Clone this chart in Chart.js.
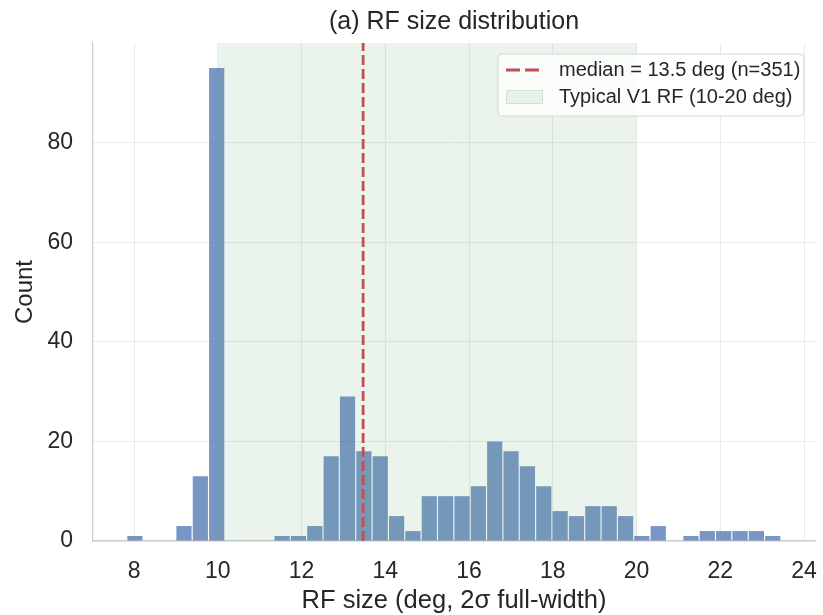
<!DOCTYPE html>
<html>
<head>
<meta charset="utf-8">
<title>RF size distribution</title>
<script src="https://cdn.jsdelivr.net/npm/chart.js@4.4.1/dist/chart.umd.min.js"></script>
<style>
  html, body { margin: 0; padding: 0; background: #fff; }
</style>
</head>
<body>
<canvas id="rfChart" width="823" height="615"></canvas>
<script>
// histogram of fitted RF sizes, 40 equal bins
const binStart = 7.826;
const binWidth = 0.3905;
const counts = [1, 0, 0, 3, 13, 95, 0, 0, 0, 1,
                1, 3, 17, 29, 18, 17, 5, 2, 9, 9,
                9, 11, 20, 18, 15, 11, 6, 5, 7, 7,
                5, 1, 3, 0, 1, 2, 2, 2, 2, 1];
const medianDeg = 13.47;
const typicalRange = [10, 20];
const xTicks = [8, 10, 12, 14, 16, 18, 20, 22, 24];
const yTicks = [0, 20, 40, 60, 80];
const xRange = [7.02, 24.26];
const yMax = 100;
const medianLabel = 'median = 13.5 deg (n=351)';
const spanLabel = 'Typical V1 RF (10-20 deg)';

const textColor = '#262626';
const gridColor = '#ebebeb';
const spineColor = '#cccccc';
const barColor = 'rgba(76,114,176,0.75)';
const spanFill = 'rgba(85,168,104,0.12)';
const medianColor = '#c44e52';
const fontFamily = '"Liberation Sans", Arial, sans-serif';

Chart.defaults.font.family = fontFamily;
Chart.defaults.color = textColor;

// legend drawn inside the plot, on top of everything (like matplotlib)
const legendBox = {
  id: 'legendBox',
  afterDraw(chart) {
    const { ctx, chartArea } = chart;
    const w = 306, h = 62;
    const left = chartArea.right - 11 - w;
    const top = chartArea.top + 11;
    const row1 = top + 16, row2 = top + 43;
    ctx.save();
    ctx.beginPath();
    ctx.roundRect(left, top, w, h, 4);
    ctx.fillStyle = 'rgba(255,255,255,0.8)';
    ctx.fill();
    ctx.strokeStyle = '#d6d6d6';
    ctx.lineWidth = 1;
    ctx.stroke();

    ctx.beginPath();
    ctx.setLineDash([14, 5]);
    ctx.strokeStyle = medianColor;
    ctx.lineWidth = 2.8;
    ctx.moveTo(left + 8, row1);
    ctx.lineTo(left + 45, row1);
    ctx.stroke();
    ctx.setLineDash([]);

    ctx.fillStyle = spanFill;
    ctx.fillRect(left + 8, row2 - 7, 37, 14);
    ctx.strokeStyle = 'rgba(85,168,104,0.18)';
    ctx.lineWidth = 1;
    ctx.strokeRect(left + 8.5, row2 - 6.5, 36, 13);

    ctx.fillStyle = textColor;
    ctx.font = '20px ' + fontFamily;
    ctx.textBaseline = 'middle';
    ctx.textAlign = 'left';
    ctx.fillText(medianLabel, left + 61, row1);
    ctx.fillText(spanLabel, left + 61, row2);
    ctx.restore();
  }
};

new Chart(document.getElementById('rfChart'), {
  type: 'bar',
  data: {
    datasets: [
      {
        type: 'line',
        label: medianLabel,
        data: [{ x: medianDeg, y: 0 }, { x: medianDeg, y: yMax }],
        borderColor: medianColor,
        borderWidth: 2.8,
        borderDash: [10, 4],
        pointRadius: 0,
        order: 0,
      },
      {
        type: 'line',
        label: spanLabel,
        data: [{ x: typicalRange[0], y: yMax }, { x: typicalRange[1], y: yMax }],
        borderColor: 'transparent',
        borderWidth: 0,
        backgroundColor: spanFill,
        fill: 'origin',
        pointRadius: 0,
        order: 1,
      },
      {
        type: 'bar',
        label: 'Count',
        data: counts.map((c, i) => ({ x: binStart + (i + 0.5) * binWidth, y: c })),
        backgroundColor: barColor,
        barPercentage: 0.93,
        categoryPercentage: 1,
        order: 2,
      },
    ],
  },
  options: {
    responsive: false,
    devicePixelRatio: 1,
    animation: false,
    layout: { padding: { left: 0, right: 8, top: 0, bottom: 0 } },
    plugins: {
      legend: { display: false },
      tooltip: { enabled: false },
      title: {
        display: true,
        fullSize: false, // centre over the plot area, as matplotlib does
        text: '(a) RF size distribution',
        color: textColor,
        font: { size: 25, weight: 'normal' },
        padding: { top: 7, bottom: 6 },
      },
    },
    scales: {
      x: {
        type: 'linear',
        min: xRange[0],
        max: xRange[1],
        offset: false,
        afterBuildTicks: axis => { axis.ticks = xTicks.map(v => ({ value: v })); },
        afterFit: axis => {
          axis.height = 74;
          axis.paddingLeft = 0;
          axis.paddingRight = 0;
        },
        grid: { color: gridColor, lineWidth: 1, drawTicks: false, offset: false },
        border: { color: spineColor, width: 1.25 },
        ticks: { color: textColor, font: { size: 23 }, padding: 17, maxRotation: 0, autoSkip: false },
        title: {
          display: true,
          text: 'RF size (deg, 2σ full-width)',
          color: textColor,
          font: { size: 25.5 },
          padding: { top: 0, bottom: -1 },
        },
      },
      y: {
        type: 'linear',
        min: 0,
        max: yMax,
        afterBuildTicks: axis => { axis.ticks = yTicks.map(v => ({ value: v })); },
        afterFit: axis => {
          axis.width = 93;
          axis.paddingTop = 0;
          axis.paddingBottom = 0;
        },
        grid: { color: gridColor, lineWidth: 1, drawTicks: false },
        border: { color: spineColor, width: 1.25 },
        ticks: { color: textColor, font: { size: 23 }, padding: 20 },
        title: {
          display: true,
          text: 'Count',
          color: textColor,
          font: { size: 24 },
          padding: { top: 11, bottom: 0 },
        },
      },
    },
  },
  plugins: [legendBox],
});
</script>
</body>
</html>
